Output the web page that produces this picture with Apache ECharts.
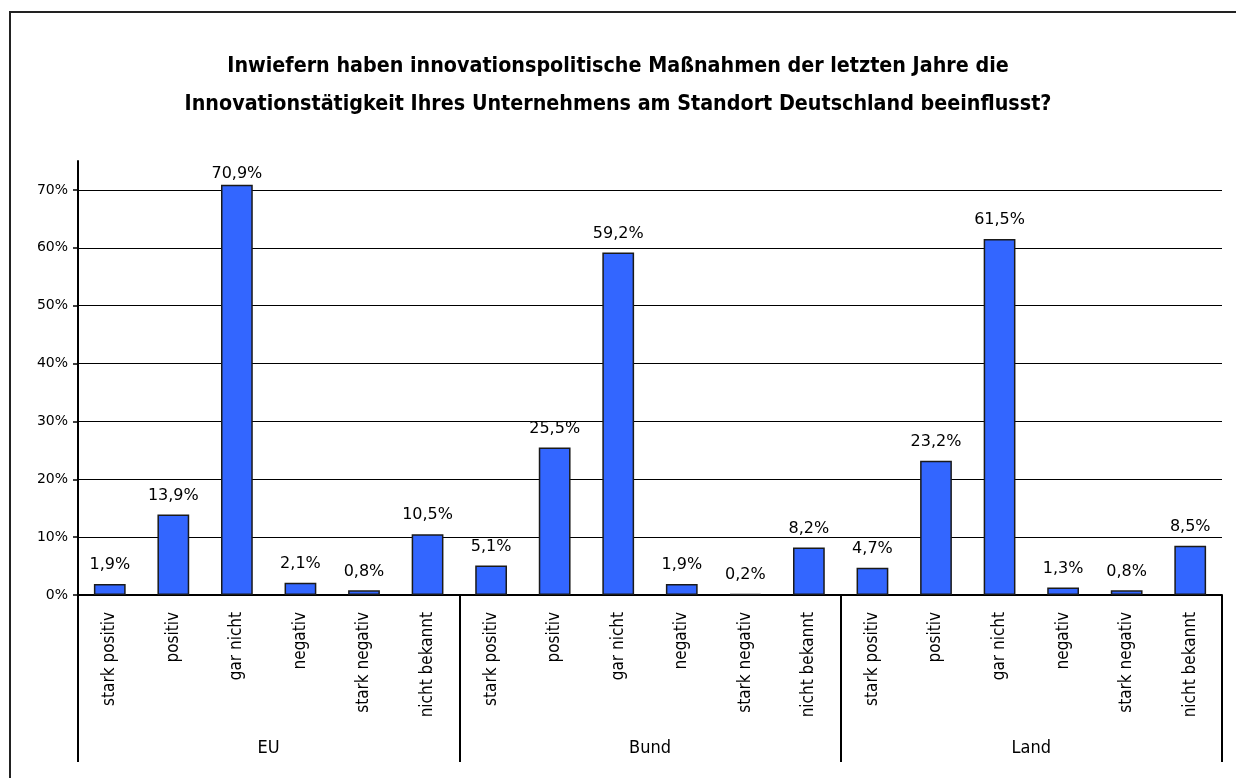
<!DOCTYPE html>
<html>
<head>
<meta charset="utf-8">
<script src="https://cdn.jsdelivr.net/npm/echarts@6/dist/echarts.min.js"></script>
<style>
html,body{margin:0;padding:0;background:#fff;}
#c{width:1236px;height:778px;}
</style>
</head>
<body>
<div id="c"></div>
<script>
const titleText = 'Inwiefern haben innovationspolitische Maßnahmen der letzten Jahre die\nInnovationstätigkeit Ihres Unternehmens am Standort Deutschland beeinflusst?';
const answers = ['stark positiv', 'positiv', 'gar nicht', 'negativ', 'stark negativ', 'nicht bekannt'];
const groups = ['EU', 'Bund', 'Land'];
const euValues = [1.9, 13.9, 70.9, 2.1, 0.8, 10.5];
const bundValues = [5.1, 25.5, 59.2, 1.9, 0.2, 8.2];
const landValues = [4.7, 23.2, 61.5, 1.3, 0.8, 8.5];
const yTicks = [0, 10, 20, 30, 40, 50, 60, 70];

const categories = [].concat(answers, answers, answers);
const values = [].concat(euValues, bundValues, landValues);

const condensed = '"DejaVu Sans Condensed", "Liberation Sans Narrow", "DejaVu Sans", sans-serif';
const plain = '"DejaVu Sans", Verdana, sans-serif';

const chart = echarts.init(document.getElementById('c'), null, {renderer: 'canvas'});
chart.setOption({
  animation: false,
  backgroundColor: '#fff',
  title: {
    text: titleText,
    left: 'center',
    top: 42,
    textStyle: {fontFamily: condensed, fontWeight: 'bold', fontSize: 21.3, lineHeight: 38, color: '#000'}
  },
  graphic: [{
    type: 'rect',
    shape: {x: 10, y: 12, width: 1400, height: 900},
    style: {fill: null, stroke: '#222', lineWidth: 2},
    silent: true
  }],
  grid: {left: 78, right: 14, top: 161, bottom: 183, containLabel: false},
  xAxis: [{
    type: 'category',
    data: categories,
    position: 'bottom',
    axisLine: {show: true, lineStyle: {color: '#000', width: 2}},
    axisTick: {show: false},
    axisLabel: {rotate: 90, margin: 17, interval: 0, fontFamily: condensed, fontSize: 17, color: '#000'},
    splitLine: {show: false}
  }, {
    type: 'category',
    data: groups,
    position: 'bottom',
    axisLine: {show: false},
    axisTick: {show: true, length: 167, lineStyle: {color: '#000', width: 2}},
    axisLabel: {margin: 144, fontFamily: condensed, fontSize: 18, color: '#000'},
    splitLine: {show: false}
  }],
  yAxis: {
    type: 'value',
    min: 0,
    max: 75,
    interval: 10,
    axisLine: {show: true, lineStyle: {color: '#000', width: 2}},
    axisTick: {show: true, length: 5, lineStyle: {color: '#000', width: 1.5}, customValues: yTicks},
    axisLabel: {margin: 10, fontFamily: plain, fontSize: 14, color: '#000', formatter: v => v + '%', customValues: yTicks},
    splitLine: {show: true, lineStyle: {color: '#000', width: 1}}
  },
  series: [{
    type: 'bar',
    xAxisIndex: 0,
    barWidth: '50%',
    data: values.map(v => ({
      value: v,
      label: v > 70 ? {distance: 3} : undefined
    })),
    itemStyle: {color: '#3366FF', borderColor: '#1a1a1a', borderWidth: 1.5},
    label: {
      show: true,
      position: 'top',
      distance: 11,
      fontFamily: plain,
      fontSize: 16,
      color: '#000',
      formatter: p => p.value.toFixed(1).replace('.', ',') + '%'
    }
  }]
});
</script>
</body>
</html>
